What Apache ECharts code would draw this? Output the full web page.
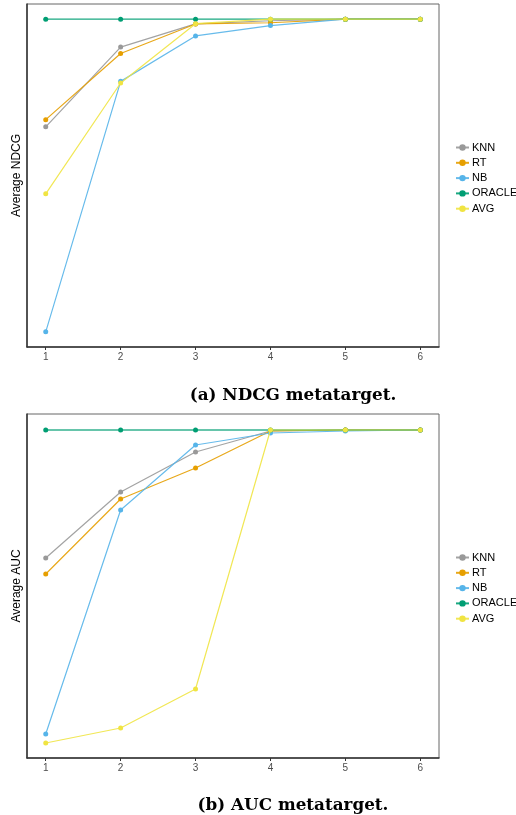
<!DOCTYPE html>
<html>
<head>
<meta charset="utf-8">
<script src="https://cdn.jsdelivr.net/npm/echarts@6/dist/echarts.min.js"></script>
<style>
  html, body { margin: 0; padding: 0; background: #fff; }
  #chart { width: 516px; height: 815px; }
</style>
</head>
<body>
<div id="chart"></div>
<script>
var steps = [1, 2, 3, 4, 5, 6];
var names = ['KNN', 'RT', 'NB', 'ORACLE', 'AVG'];
var colors = ['#999999', '#E69F00', '#56B4E9', '#009E73', '#F0E442'];

// (a) NDCG metatarget
var ndcgKNN    = [0.865, 0.965, 0.994, 0.998, 1.000, 1.000];
var ndcgRT     = [0.874, 0.957, 0.994, 0.9955, 1.000, 1.000];
var ndcgNB     = [0.608, 0.922, 0.979, 0.992, 1.000, 1.000];
var ndcgORACLE = [1.000, 1.000, 1.000, 1.000, 1.000, 1.000];
var ndcgAVG    = [0.781, 0.920, 0.9943, 1.000, 1.000, 1.000];

// (b) AUC metatarget
var aucKNN    = [0.792, 0.858, 0.898, 0.919, 0.920, 0.920];
var aucRT     = [0.776, 0.851, 0.882, 0.919, 0.920, 0.920];
var aucNB     = [0.616, 0.840, 0.905, 0.917, 0.919, 0.920];
var aucORACLE = [0.920, 0.920, 0.920, 0.920, 0.920, 0.920];
var aucAVG    = [0.607, 0.622, 0.661, 0.920, 0.920, 0.920];

var ndcg = [ndcgKNN, ndcgRT, ndcgNB, ndcgORACLE, ndcgAVG];
var auc = [aucKNN, aucRT, aucNB, aucORACLE, aucAVG];

var pairs = function (vals) {
    return steps.map((s, i) => [s, vals[i]]);
};

var makeSeries = function (sets, idx) {
    return sets.map((vals, i) => ({
        name: names[i],
        type: 'line',
        xAxisIndex: idx,
        yAxisIndex: idx,
        data: pairs(vals),
        symbol: 'circle',
        symbolSize: 5,
        color: colors[i],
        lineStyle: {
            width: names[i] === 'ORACLE' && idx === 1 ? 2 : 1.2,
            opacity: names[i] === 'ORACLE' && idx === 1 ? 0.6 : 0.9
        },
        emphasis: { disabled: true },
        z: 2 + i
    }));
};

var xAxisOf = function (idx) {
    return {
        type: 'value',
        gridIndex: idx,
        min: 0.75,
        max: 6.25,
        axisLine: { show: true, onZero: false, lineStyle: { color: '#333', width: 1.5 } },
        axisTick: { show: true, customValues: steps, length: 3, lineStyle: { color: '#333' } },
        axisLabel: { customValues: steps, color: '#4d4d4d', fontSize: 10, fontFamily: 'Liberation Sans', margin: 5 },
        splitLine: { show: false }
    };
};

var yAxisOf = function (idx, name, min, max) {
    return {
        type: 'value',
        gridIndex: idx,
        min: min,
        max: max,
        name: name,
        nameLocation: 'middle',
        nameGap: 4,
        nameTextStyle: { color: '#000', fontSize: 12, fontFamily: 'Liberation Sans' },
        axisLine: { show: true, lineStyle: { color: '#333', width: 1.5 } },
        axisTick: { show: false },
        axisLabel: { show: false },
        splitLine: { show: false }
    };
};

var legendOf = function (top) {
    return {
        data: names,
        orient: 'vertical',
        left: 455,
        top: top,
        padding: 0,
        itemWidth: 13,
        itemHeight: 8,
        itemGap: 4.3,
        textStyle: { color: '#000', fontSize: 11, lineHeight: 11, fontFamily: 'Liberation Sans', padding: [0, 0, 0, -2] },
        selectedMode: false
    };
};

var captionOf = function (text, top) {
    return {
        text: text,
        left: 288,
        top: top,
        textAlign: 'center',
        textStyle: { fontFamily: 'DejaVu Serif', fontWeight: 'bold', fontSize: 16.8, color: '#000' }
    };
};

var chart = echarts.init(document.getElementById('chart'), null, { renderer: 'canvas' });
chart.setOption({
    animation: false,
    backgroundColor: '#fff',
    title: [captionOf('(a) NDCG metatarget.', 382), captionOf('(b) AUC metatarget.', 792)],
    legend: [legendOf(142), legendOf(552)],
    grid: [
        { left: 27, top: 4, width: 412, height: 343, show: true, borderColor: '#666', borderWidth: 1, outerBoundsMode: 'none' },
        { left: 27, top: 414, width: 412, height: 344, show: true, borderColor: '#666', borderWidth: 1, outerBoundsMode: 'none' }
    ],
    xAxis: [xAxisOf(0), xAxisOf(1)],
    yAxis: [yAxisOf(0, 'Average NDCG', 0.589, 1.019), yAxisOf(1, 'Average AUC', 0.592, 0.936)],
    series: makeSeries(ndcg, 0).concat(makeSeries(auc, 1))
});
</script>
</body>
</html>
